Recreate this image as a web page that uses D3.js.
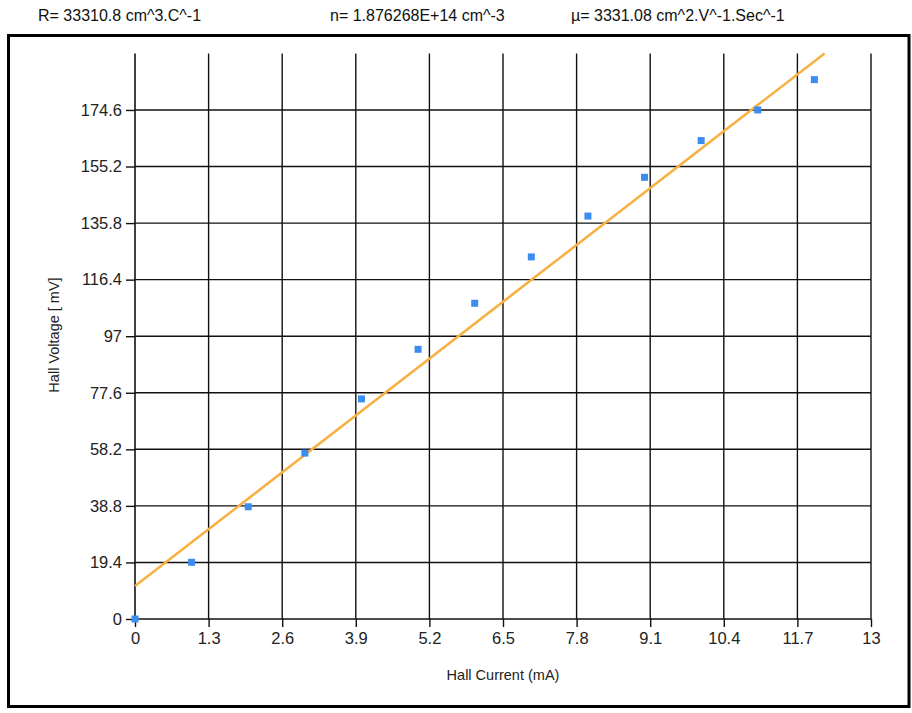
<!DOCTYPE html>
<html><head><meta charset="utf-8">
<script src="https://cdn.jsdelivr.net/npm/d3@7"></script>
<style>
html,body{margin:0;padding:0;background:#fff;}
svg{display:block;font-family:"Liberation Sans",Arial,sans-serif;}
</style></head>
<body>
<svg id="chart" width="912" height="713"></svg>
<script>
// Data
const currents = [0,1,2,3,4,5,6,7,8,9,10,11,12];
const voltages = [0,19.45,38.5,56.9,75.5,92.5,108.3,124.2,138.2,151.5,164.1,174.6,185.0];
const xTicks = [0,1.3,2.6,3.9,5.2,6.5,7.8,9.1,10.4,11.7,13];
const yTicks = [0,19.4,38.8,58.2,77.6,97,116.4,135.8,155.2,174.6];
const fitSlope = 15.0;
const fitIntercept = 11.3;
const headerTexts = ["R= 33310.8 cm^3.C^-1","n= 1.876268E+14 cm^-3","\u00b5= 3331.08 cm^2.V^-1.Sec^-1"];
const xTitle = "Hall Current (mA)";
const yTitle = "Hall Voltage [ mV]";

(function(){
const svg = d3.select("#chart");
const pL = 135, pR = 871, pT = 53.4, pB = 619;
const x = d3.scaleLinear().domain([0,13]).range([pL,pR]);
const y = d3.scaleLinear().domain([0,194]).range([pB,pT]);

// header
const hx = [38,330,571];
svg.selectAll("text.hdr").data(headerTexts).join("text")
  .attr("class","hdr").attr("x",(d,i)=>hx[i]).attr("y",21)
  .attr("font-size",16).attr("fill","#111").text(d=>d);

// outer border
svg.append("rect").attr("x",8.5).attr("y",35.5).attr("width",900.5).attr("height",671)
  .attr("fill","none").attr("stroke","#000").attr("stroke-width",3);

// gridlines
const g = svg.append("g");
g.selectAll("line.hg").data(yTicks.filter(d=>d>0)).join("line")
  .attr("x1",pL).attr("x2",pR).attr("y1",d=>y(d)).attr("y2",d=>y(d))
  .attr("stroke","#111").attr("stroke-width",1.4);
g.selectAll("line.vg").data(xTicks.filter(d=>d>0)).join("line")
  .attr("y1",pT).attr("y2",pB).attr("x1",d=>x(d)).attr("x2",d=>x(d))
  .attr("stroke","#111").attr("stroke-width",1.4);

// axes
const xAxis = d3.axisBottom(x).tickValues(xTicks).tickSize(8).tickPadding(5).tickFormat(d3.format("~g"));
const yAxis = d3.axisLeft(y).tickValues(yTicks).tickSize(9).tickPadding(4).tickFormat(d3.format("~g"));
const gx = svg.append("g").attr("transform",`translate(0,${pB})`).call(xAxis);
const gy = svg.append("g").attr("transform",`translate(${pL},0)`).call(yAxis);
[gx,gy].forEach(a=>{
  a.select(".domain").remove();
  a.selectAll(".tick line").attr("stroke","#111").attr("stroke-width",1.4);
  a.selectAll(".tick text").attr("font-size",16.5).attr("fill","#222")
    .attr("font-family","'Liberation Sans',Arial,sans-serif");
});
svg.append("line").attr("x1",pL).attr("x2",pR).attr("y1",pB).attr("y2",pB)
  .attr("stroke","#111").attr("stroke-width",1.6);
svg.append("line").attr("x1",pL).attr("x2",pL).attr("y1",pT).attr("y2",pB)
  .attr("stroke","#111").attr("stroke-width",1.6);

// axis titles
svg.append("text").attr("x",503).attr("y",680).attr("text-anchor","middle")
  .attr("font-size",14.5).attr("fill","#222").text(xTitle);
svg.append("text").attr("transform","translate(59,335) rotate(-90)").attr("text-anchor","middle")
  .attr("font-size",14.5).attr("fill","#222").text(yTitle);

// fit line
const xEnd = Math.min(13,(194-fitIntercept)/fitSlope);
svg.append("line")
  .attr("x1",x(0)).attr("y1",y(fitIntercept))
  .attr("x2",x(xEnd)).attr("y2",y(fitIntercept+fitSlope*xEnd))
  .attr("stroke","#f8b040").attr("stroke-width",2.5);

// points
const s = 7;
svg.selectAll("rect.pt").data(currents.map((c,i)=>[c,voltages[i]])).join("rect")
  .attr("class","pt").attr("x",d=>x(d[0])-s/2).attr("y",d=>y(d[1])-s/2)
  .attr("width",s).attr("height",s).attr("fill","#3b8ef0");
})();
</script>
</body></html>
